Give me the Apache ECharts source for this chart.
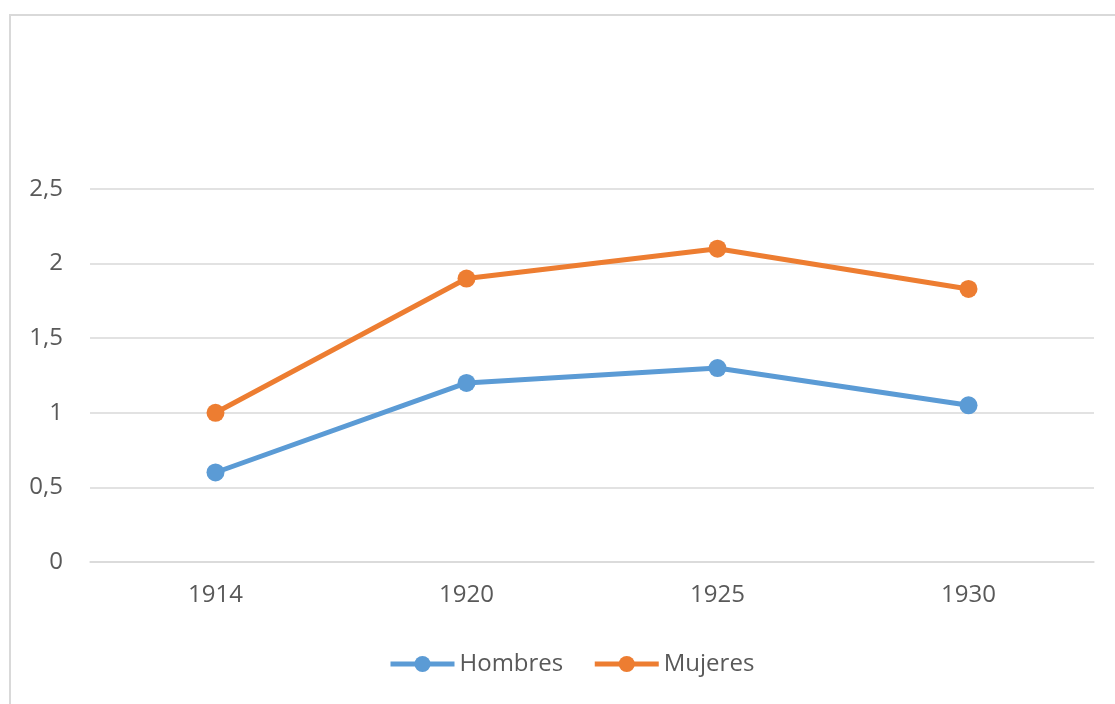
<!DOCTYPE html>
<html>
<head>
<meta charset="utf-8">
<script src="https://cdn.jsdelivr.net/npm/echarts@6/dist/echarts.min.js"></script>
<style>
html,body{margin:0;padding:0;background:#fff;}
#chart{width:1115px;height:704px;}
</style>
</head>
<body>
<div id="chart"></div>
<script>
const categories = ['1914', '1920', '1925', '1930'];
const hombres = [0.6, 1.2, 1.3, 1.05];
const mujeres = [1.0, 1.9, 2.1, 1.83];
const seriesNames = ['Hombres', 'Mujeres'];
const colors = ['#5B9BD5', '#ED7D31'];

const chart = echarts.init(document.getElementById('chart'), null, {renderer: 'canvas'});
const textStyle = {fontFamily: 'Open Sans', fontSize: 24, color: '#595959'};
chart.setOption({
  animation: false,
  backgroundColor: '#fff',
  color: colors,
  graphic: [{
    type: 'rect',
    shape: {x: 10, y: 15, width: 1200, height: 800},
    style: {fill: 'none', stroke: '#d9d9d9', lineWidth: 2},
    silent: true
  }],
  grid: {left: 90, right: 21, top: 189, bottom: 142, containLabel: false},
  legend: {
    bottom: 23,
    left: 383,
    itemWidth: 64,
    itemHeight: 20,
    itemGap: 29,
    textStyle: textStyle,
    lineStyle: {width: 5},
    data: seriesNames
  },
  xAxis: {
    type: 'category',
    data: categories,
    boundaryGap: true,
    axisLine: {lineStyle: {color: '#d9d9d9', width: 1.5}},
    axisTick: {show: false},
    axisLabel: Object.assign({margin: 21}, textStyle)
  },
  yAxis: {
    type: 'value',
    min: 0,
    max: 2.5,
    interval: 0.5,
    axisLine: {show: false},
    axisTick: {show: false},
    splitLine: {lineStyle: {color: '#d9d9d9', width: 1.5}},
    axisLabel: Object.assign({
      margin: 27,
      formatter: v => String(v).replace('.', ',')
    }, textStyle)
  },
  series: [
    {
      name: seriesNames[0], type: 'line', data: hombres,
      symbol: 'circle', symbolSize: 18,
      lineStyle: {width: 5, color: colors[0]},
      itemStyle: {color: colors[0]}
    },
    {
      name: seriesNames[1], type: 'line', data: mujeres,
      symbol: 'circle', symbolSize: 18,
      lineStyle: {width: 5, color: colors[1]},
      itemStyle: {color: colors[1]}
    }
  ]
});
</script>
</body>
</html>
